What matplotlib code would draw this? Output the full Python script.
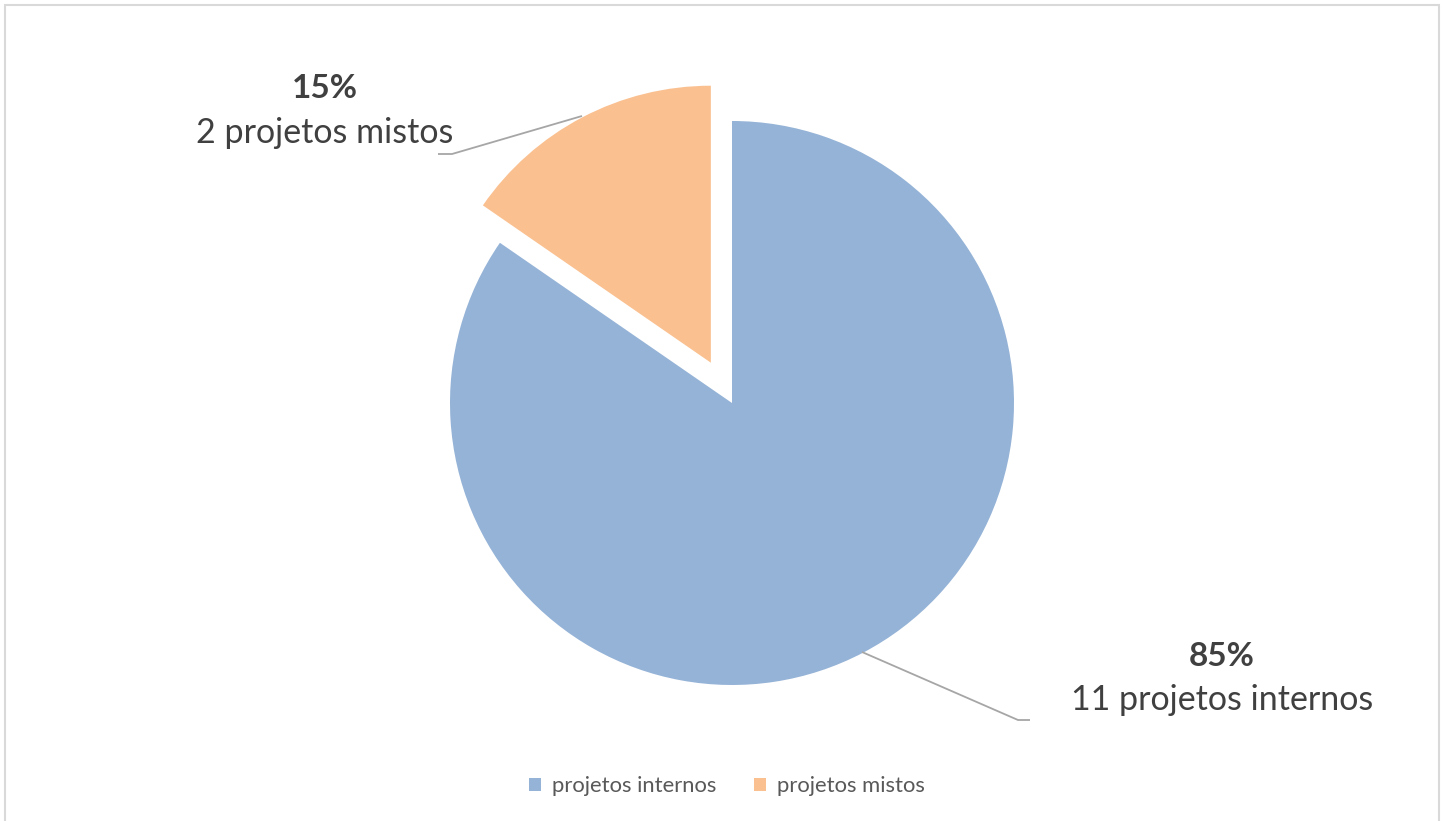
import matplotlib
matplotlib.use("Agg")
import matplotlib.pyplot as plt
from matplotlib.patches import Rectangle

categories = ["projetos internos", "projetos mistos"]
values = [11, 2]
label_texts = ["11 projetos internos", "2 projetos mistos"]
colors = ["#95B3D7", "#FAC090"]

W, H = 1447, 821
fig = plt.figure(figsize=(W / 100, H / 100), dpi=100)
ax = fig.add_axes([0, 0, 1, 1])
ax.set_xlim(0, W)
ax.set_ylim(0, H)
ax.set_aspect("equal")
ax.axis("off")

font = ["Lato", "DejaVu Sans"]

# chart border
fig.patches.append(Rectangle((5 / W, -0.01), (1439 - 5) / W, (H - 5) / H + 0.01,
                             transform=fig.transFigure, fill=False,
                             edgecolor="#D9D9D9", linewidth=1.5))

R = 282
cx, cy = 732, H - 403
wedges, _ = ax.pie(values, colors=colors, startangle=90, counterclock=False,
                   radius=R, center=(cx, cy), explode=[0, 45.5],
                   wedgeprops=dict(linewidth=0))
wedges[1].set_radius(277)
ax.set_xlim(0, W)
ax.set_ylim(0, H)

total = sum(values)
pcts = [f"{round(v / total * 100)}%" for v in values]

# label positions (pixel coords from top)
label_pos = [(1222, 657, 700), (325, 88, 133)]
leaders = [[(862, 652), (1018, 720), (1030, 720)],
           [(582, 116), (452, 154), (438, 154)]]

for i in range(len(values)):
    x, yp, yt = label_pos[i]
    ax.text(x, H - yp, pcts[i], ha="center", va="center", fontsize=24,
            fontweight="bold", color="#404040", family=font)
    ax.text(x, H - yt, label_texts[i], ha="center", va="center", fontsize=24.5,
            color="#404040", family=font)
    pts = leaders[i]
    ax.plot([p[0] for p in pts], [H - p[1] for p in pts], color="#A6A6A6",
            linewidth=1.3, solid_capstyle="butt")

leg = ax.legend(wedges, categories, loc="center", bbox_to_anchor=(727 / W, 1 - 786 / H),
                bbox_transform=fig.transFigure, ncol=2, frameon=False,
                prop=dict(family=font, size=15.8), labelcolor="#595959",
                handlelength=0.55, handleheight=0.55, handletextpad=0.5,
                columnspacing=1.7)

fig.savefig("out.png", dpi=100)
